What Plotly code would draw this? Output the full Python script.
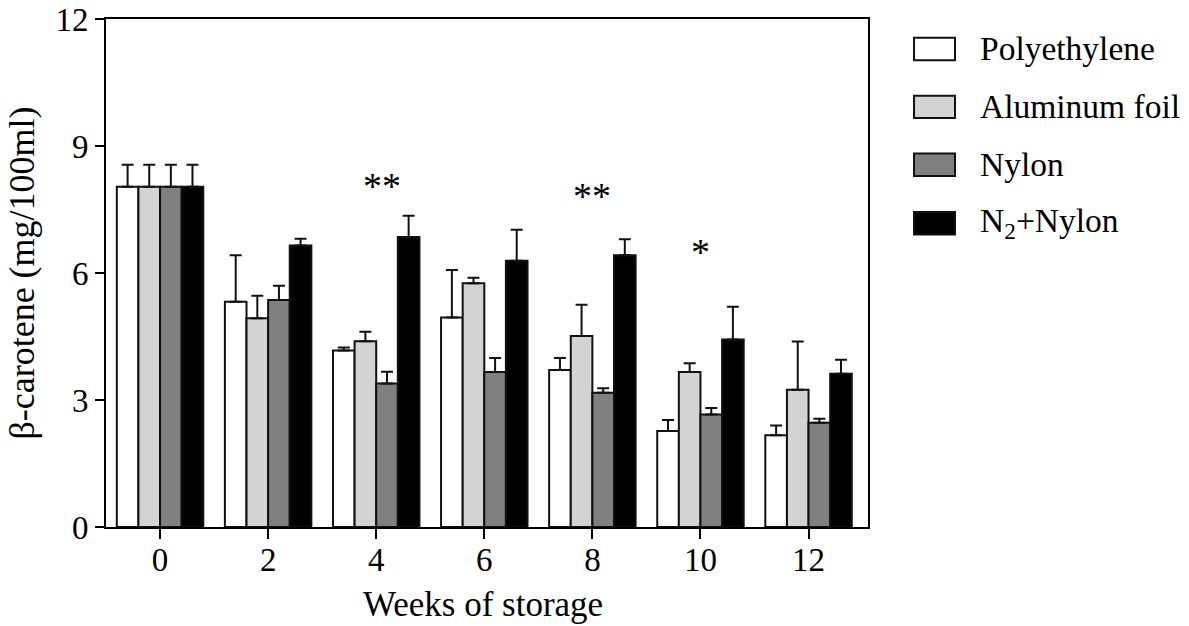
import plotly.graph_objects as go

# Storage time (weeks) and packaging treatments
weeks = [0, 2, 4, 6, 8, 10, 12]
tick_labels = ["0", "2", "4", "6", "8", "10", "12"]

# Mean beta-carotene content (mg/100ml) per packaging type
polyethylene = [8.04, 5.32, 4.17, 4.95, 3.71, 2.27, 2.17]
aluminum_foil = [8.04, 4.93, 4.39, 5.76, 4.51, 3.66, 3.24]
nylon = [8.04, 5.36, 3.39, 3.66, 3.17, 2.66, 2.46]
n2_nylon = [8.04, 6.65, 6.85, 6.29, 6.42, 4.43, 3.62]

# Standard deviations (upper error bars only)
polyethylene_sd = [0.52, 1.10, 0.07, 1.12, 0.28, 0.26, 0.23]
aluminum_foil_sd = [0.52, 0.53, 0.22, 0.13, 0.74, 0.21, 1.14]
nylon_sd = [0.52, 0.34, 0.28, 0.33, 0.11, 0.15, 0.10]
n2_nylon_sd = [0.52, 0.16, 0.50, 0.73, 0.38, 0.77, 0.33]

# Significance markers
sig_weeks = [4.1, 8, 10]
sig_labels = ["**", "**", "*"]
sig_heights = [8.15, 7.92, 6.58]

series_names = ["Polyethylene", "Aluminum foil", "Nylon", "N<sub>2</sub>+Nylon"]
series_values = [polyethylene, aluminum_foil, nylon, n2_nylon]
series_sd = [polyethylene_sd, aluminum_foil_sd, nylon_sd, n2_nylon_sd]
series_colors = ["#ffffff", "#d3d3d3", "#808080", "#000000"]

FONT = "Liberation Serif, Times New Roman, serif"
OUTLINE = "#111111"

fig = go.Figure()
for name, vals, sd, col in zip(series_names, series_values, series_sd, series_colors):
    fig.add_trace(go.Bar(
        x=weeks, y=vals, name=name,
        marker=dict(color=col, line=dict(color=OUTLINE, width=2)),
        error_y=dict(type="data", symmetric=False, array=sd,
                     arrayminus=[0] * len(sd), color=OUTLINE,
                     thickness=2, width=6),
        showlegend=False,
    ))

# Significance asterisks above the groups
for wk, lab, h in zip(sig_weeks, sig_labels, sig_heights):
    fig.add_annotation(x=wk, y=h, text=lab, showarrow=False,
                       xref="x", yref="y", yanchor="middle",
                       yshift=-4,
                       font=dict(family=FONT, size=38, color="#000000"))

# Legend drawn as swatches with labels to the right of the plot
legend_y = [0.941, 0.827, 0.713, 0.598]
for name, col, ly in zip(series_names, series_colors, legend_y):
    fig.add_shape(type="rect", xref="paper", yref="paper",
                  x0=1.0604, x1=1.1142, y0=ly - 0.022, y1=ly + 0.022,
                  fillcolor=col, line=dict(color=OUTLINE, width=2))
    fig.add_annotation(x=1.1444, y=ly, xref="paper", yref="paper",
                       text=name, showarrow=False, xanchor="left",
                       yanchor="middle",
                       font=dict(family=FONT, size=33.5, color="#000000"))

# X-axis title placed below the tick labels
fig.add_annotation(x=0.495, y=-0.1535, xref="paper", yref="paper",
                   text="Weeks of storage", showarrow=False,
                   xanchor="center", yanchor="middle",
                   font=dict(family=FONT, size=35, color="#000000"))

fig.update_layout(
    width=1189, height=626,
    margin=dict(l=106, r=321, t=19, b=99, autoexpand=False),
    paper_bgcolor="white", plot_bgcolor="white",
    barmode="group", bargap=0.2, bargroupgap=0,
    font=dict(family=FONT, size=32, color="#000000"),
)
fig.update_xaxes(
    range=[-1, 13.1], tickmode="array", tickvals=weeks, ticktext=tick_labels,
    showline=True, linecolor="#000000", linewidth=2, mirror=True,
    ticks="outside", ticklen=10, tickwidth=2, tickcolor="#000000",
    showgrid=False, zeroline=False, automargin=False,
    ticklabelstandoff=-8,
    tickfont=dict(family=FONT, size=33),
)
fig.update_yaxes(
    range=[0, 12], tickmode="array", tickvals=[0, 3, 6, 9, 12],
    showline=True, linecolor="#000000", linewidth=2, mirror=True,
    ticks="outside", ticklen=9, tickwidth=2, tickcolor="#000000",
    showgrid=False, zeroline=False, automargin=False,
    tickfont=dict(family=FONT, size=33),
    title=dict(text="β-carotene (mg/100ml)", font=dict(family=FONT, size=36), standoff=10),
)

fig.write_html("out.html")
